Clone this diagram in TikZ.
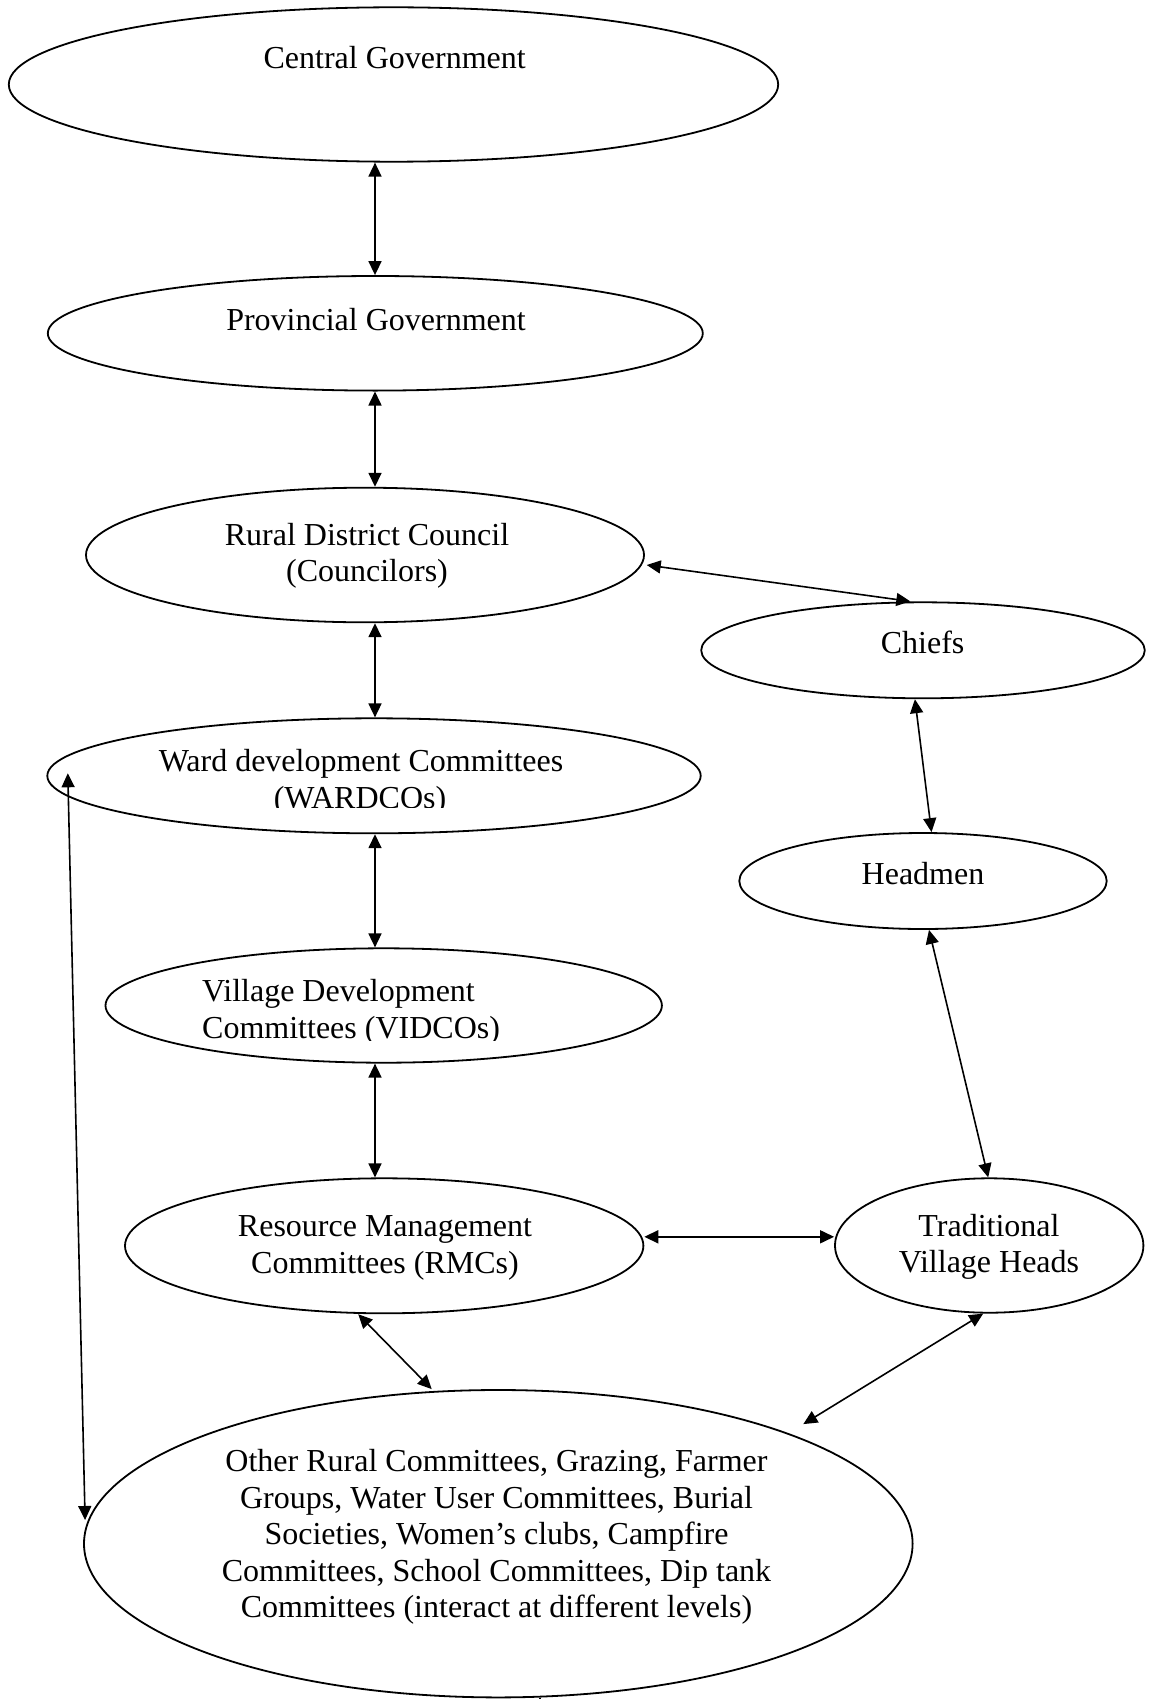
\documentclass[tikz,border=0pt]{standalone}
\usepackage{fontspec}
\setmainfont{Liberation Serif}
\usetikzlibrary{arrows.meta,shapes.geometric}
\tikzset{
  oval/.style={draw, ellipse, line width=1.8pt, inner sep=0pt},
  lbl/.style={inner sep=0pt, anchor=base, font=\fontsize{32}{36.6}\selectfont},
  lblw/.style={inner sep=0pt, anchor=base west, font=\fontsize{32}{36.6}\selectfont},
  link/.style={line width=1.6pt, {Triangle[length=14pt,width=13pt]}-{Triangle[length=14pt,width=13pt]}}
}
\begin{document}
\begin{tikzpicture}[x=1pt,y=-1pt]
\useasboundingbox (0,0) rectangle (1151,1699);
% ellipses
\node[oval, minimum width=769.4pt, minimum height=154.4pt] (cg) at (393.5,84.5) {};
\node[oval, minimum width=655pt, minimum height=114.6pt] (pg) at (375.3,333.3) {};
\node[oval, minimum width=558pt, minimum height=134.6pt] (rdc) at (365,555) {};
\node[oval, minimum width=443.6pt, minimum height=96pt] (ch) at (923,650.3) {};
\node[oval, minimum width=653.4pt, minimum height=115pt] (wd) at (374,775.8) {};
\node[oval, minimum width=367.4pt, minimum height=96pt] (hm) at (923,881) {};
\node[oval, minimum width=556.4pt, minimum height=114.4pt] (vd) at (383.7,1005.5) {};
\node[oval, minimum width=518.4pt, minimum height=135pt] (rmc) at (384.2,1245.8) {};
\node[oval, minimum width=308.4pt, minimum height=134.4pt] (tvh) at (989.2,1245.5) {};
\node[oval, minimum width=828.6pt, minimum height=307.4pt] (oth) at (498.3,1543.7) {};
% texts
\node[lbl] (cgt) at (394.7,68.3) {Central Government};
\node[lbl] (pgt) at (376,330) {Provincial Government};
\node[lbl] (rdct1) at (367,545) {Rural District Council};
\node[lbl] (rdct2) at (367,581.7) {(Councilors)};
\node[lbl] (cht) at (922.6,653.3) {Chiefs};
\node[lbl] (wdt1) at (361,771.7) {Ward development Committees};
\begin{scope}
\clip (0,0) rectangle (1151,807.5);
\node[lbl] (wdt2) at (360,808.3) {(WARDCOs)};
\end{scope}
\node[lbl] (hmt) at (923,884.3) {Headmen};
\node[lblw] (vdt1) at (202,1001.7) {Village Development};
\begin{scope}
\clip (0,0) rectangle (1151,1040.2);
\node[lblw] (vdt2) at (202,1038.5) {Committees (VIDCOs)};
\end{scope}
\node[lbl] (rmct1) at (385,1236.7) {Resource Management};
\node[lbl] (rmct2) at (385,1273) {Committees (RMCs)};
\node[lbl] (tvht1) at (989,1236) {Traditional};
\node[lbl] (tvht2) at (989,1272.7) {Village Heads};
\node[lbl] (otht1) at (496.5,1471.7) {Other Rural Committees, Grazing, Farmer};
\node[lbl] (otht2) at (496.5,1508.2) {Groups, Water User Committees, Burial};
\node[lbl] (otht3) at (496.5,1544.6) {Societies, Women’s clubs, Campfire};
\node[lbl] (otht4) at (496.5,1581.0) {Committees, School Committees, Dip tank};
\node[lbl] (otht5) at (496.5,1617.0) {Committees (interact at different levels)};
% connectors
\coordinate (col) at (375,0);
\draw[link] (cg.south -| col) -- (pg.north -| col);
\draw[link] (pg.south -| col) -- (rdc.north -| col);
\draw[link] (rdc.south -| col) -- (wd.north -| col);
\draw[link] (wd.south -| col) -- (vd.north -| col);
\draw[link] (vd.south -| col) -- (rmc.north -| col);
\draw[link] ([xshift=1.8pt,yshift=-10pt]rdc.east) -- ([xshift=-12.7pt]ch.north);
\draw[link] ([xshift=-8.1pt]ch.south) -- ([xshift=8.5pt]hm.north);
\draw[link] ([xshift=6pt]hm.south) -- ([xshift=-1pt]tvh.north);
\draw[link] ([yshift=9pt]rmc.east) -- ([yshift=9pt]rmc.east -| tvh.west);
\draw[link] ([xshift=-26pt]rmc.south) -- ([xshift=-66.6pt]oth.north);
\draw[link] ([xshift=-6pt]tvh.south) -- ([xshift=305pt,yshift=-35pt]oth.north);
\draw[link] ([xshift=21.4pt,yshift=2.5pt]wd.west) -- ([xshift=2pt,yshift=23.7pt]oth.west);
\draw[line width=1.2pt] ([xshift=41.7pt]oth.south) -- ++(0,6);
\end{tikzpicture}
\end{document}
